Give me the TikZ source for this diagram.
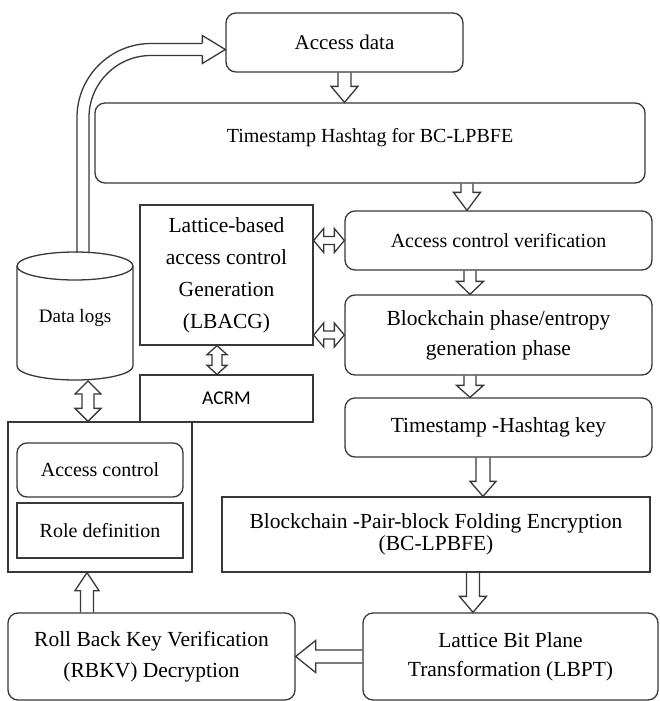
\documentclass[tikz,border=0pt]{standalone}
\usepackage{fontspec}
\setmainfont{Liberation Serif}
\newfontfamily\acrmfont{Carlito}
\usetikzlibrary{calc}
\begin{document}
\begin{tikzpicture}[x=1pt,y=-1pt,
  ln/.style={draw=black!78, line width=1.3pt, line join=miter},
  box/.style={ln, rectangle, inner sep=0pt, align=center, font=\fontsize{21.5}{31}\selectfont},
  rbox/.style={box, rounded corners=10pt},
  barrow/.style n args={3}{ln, to path={let \p1=(\tikztostart), \p2=(\tikztotarget), \p3=($(\p2)!#3!(\p1)$) in
    ($(\p1)!#1!90:(\p2)$) -- ($(\p3)!#1!-90:(\p1)$) -- ($(\p3)!#2!-90:(\p1)$) -- (\p2) -- ($(\p3)!#2!90:(\p1)$) -- ($(\p3)!#1!90:(\p1)$) -- ($(\p1)!#1!-90:(\p2)$)}},
  dbarrow/.style n args={3}{ln, to path={let \p1=(\tikztostart), \p2=(\tikztotarget), \p3=($(\p2)!#3!(\p1)$), \p4=($(\p1)!#3!(\p2)$) in
    (\p1) -- ($(\p4)!#2!90:(\p2)$) -- ($(\p4)!#1!90:(\p2)$) -- ($(\p3)!#1!-90:(\p1)$) -- ($(\p3)!#2!-90:(\p1)$) -- (\p2) -- ($(\p3)!#2!90:(\p1)$) -- ($(\p3)!#1!90:(\p1)$) -- ($(\p4)!#1!-90:(\p2)$) -- ($(\p4)!#2!-90:(\p2)$) -- cycle}},
  varr/.style={barrow={6.5pt}{13.5pt}{16pt}}
]
\useasboundingbox (0,0) rectangle (659,701);

% nodes
\node[rbox, minimum width=237pt, minimum height=59pt, font=\fontsize{21}{30}\selectfont] (access) at (344.5,42.5) {Access data};
\node[rbox, minimum width=550pt, minimum height=80pt, font=\fontsize{20}{30}\selectfont, text height=14pt, text depth=16pt] (ts) at (370,143) {Timestamp Hashtag for BC-LPBFE};
\node[rbox, minimum width=307pt, minimum height=59pt, font=\fontsize{20}{30}\selectfont] (acv) at (498.5,240.5) {Access control verification};
\node[rbox, minimum width=307pt, minimum height=80pt, font=\fontsize{21.5}{30}\selectfont] (bcp) at (498.5,335) {Blockchain phase/entropy\\generation phase};
\node[rbox, minimum width=307pt, minimum height=59pt] (tsk) at (498.5,427.5) {Timestamp -Hashtag key};
\node[box, minimum width=428pt, minimum height=75pt, font=\fontsize{21.5}{22}\selectfont] (enc) at (436,534.5) {Blockchain -Pair-block Folding Encryption\\(BC-LPBFE)};
\node[rbox, minimum width=295pt, minimum height=87pt, font=\fontsize{21.5}{29}\selectfont] (lbpt) at (510.5,656.5) {Lattice Bit Plane\\Transformation (LBPT)};
\node[rbox, minimum width=287pt, minimum height=87pt, font=\fontsize{21.5}{31}\selectfont] (rbkv) at (151.5,656.5) {Roll Back Key Verification\\(RBKV) Decryption};
\node[box, minimum width=184pt, minimum height=150pt] (outer) at (100,497) {};
\node[rbox, minimum width=166pt, minimum height=54pt, font=\fontsize{20}{30}\selectfont] (ac) at (100,470) {Access control};
\node[box, minimum width=166pt, minimum height=55pt, font=\fontsize{20}{30}\selectfont] (role) at (100,530.5) {Role definition};
\node[box, minimum width=173pt, minimum height=47pt, font=\acrmfont\fontsize{19.5}{22}\selectfont] (acrm) at (226.5,398.5) {ACRM};
\node[box, minimum width=173pt, minimum height=140pt, font=\fontsize{21.5}{32}\selectfont] (lbacg) at (226.5,275) {Lattice-based\\access control\\Generation\\(LBACG)};

% data logs cylinder
\draw[ln] (75,266) ellipse [x radius=58, y radius=14];
\draw[ln] (17,266) -- (17,366) arc[start angle=180, end angle=0, x radius=58, y radius=14] -- (133,266);
\node[font=\fontsize{19}{24}\selectfont] (logs) at (75,318) {Data logs};
\coordinate (ltop) at (83,253);
\coordinate (lbot) at (88,381);

% curved arrow from data logs to access data
\coordinate (tip) at ($(access.west)+(0,7)$);
\draw[ln, rounded corners=62pt] ($(ltop)+(6,0)$) |- ($(tip)+(-23,6)$);
\draw[ln, rounded corners=74pt] ($(ltop)+(-6,0)$) |- ($(tip)+(-23,-6)$);
\draw[ln] ($(tip)+(-23,6)$) -- ($(tip)+(-23,14)$) -- (tip) -- ($(tip)+(-23,-14)$) -- ($(tip)+(-23,-6)$);

% main flow arrows
\coordinate (c1) at ($(acv.north)+(-31.5,0)$);
\coordinate (c2) at ($(acv.south)+(-28.5,0)$);
\coordinate (c3) at ($(bcp.south)+(-28.5,0)$);
\coordinate (c4) at ($(tsk.south)+(-15.5,0)$);
\coordinate (c5) at ($(enc.south)+(37,0)$);
\coordinate (c6) at ($(outer.south)+(-13,0)$);
\coordinate (c7) at ($(lbacg.south)+(-9.5,0)$);

\draw[varr] (access.south) to (access.south |- ts.north);
\draw[barrow={6pt}{13.5pt}{18pt}] (c1 |- ts.south) to (c1);
\draw[barrow={6pt}{13.5pt}{13pt}] (c2) to (c2 |- bcp.north);
\draw[barrow={6pt}{13.5pt}{12pt}] (c3) to (c3 |- tsk.north);
\draw[barrow={7pt}{13pt}{15pt}] (c4) to (c4 |- enc.north);
\draw[varr] (c5) to (c5 |- lbpt.north);
\draw[barrow={6.5pt}{16pt}{20pt}] (lbpt.west) to (rbkv.east);
\draw[barrow={6.5pt}{12pt}{18pt}] (c6 |- rbkv.north) to (c6);

% double-headed arrows
\draw[dbarrow={6pt}{13pt}{13pt}] (lbot) to (lbot |- outer.north);
\draw[dbarrow={5pt}{10pt}{9pt}] (c7) to (c7 |- acrm.north);
\draw[dbarrow={4pt}{12pt}{10pt}] (acv.west -| lbacg.east) to (acv.west);
\draw[dbarrow={4pt}{12pt}{10pt}] (bcp.west -| lbacg.east) to (bcp.west);
\end{tikzpicture}
\end{document}
